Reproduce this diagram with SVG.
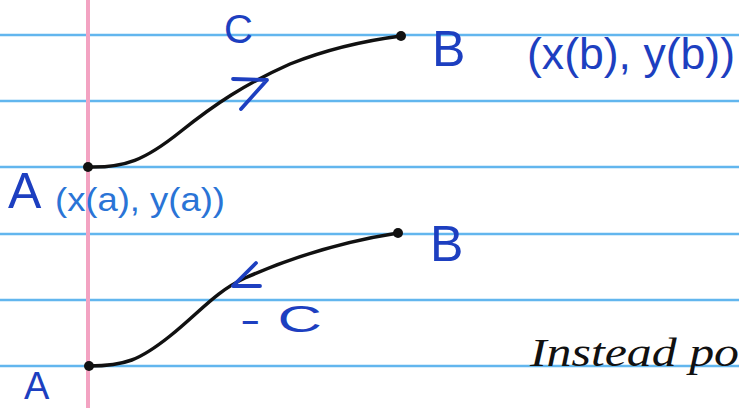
<svg xmlns="http://www.w3.org/2000/svg" width="739" height="408" viewBox="0 0 739 408">
<style>
.rule{stroke:#62b6ee;stroke-width:2.5}
.margin{stroke:#f3a3c2;stroke-width:4}
.curve{fill:none;stroke:#111;stroke-width:3.5;stroke-linecap:round}
.dot{fill:#111}
.ink{fill:#1d3fc0;font-family:"Liberation Sans",sans-serif}
.ink2{fill:#2a74d6;font-family:"Liberation Sans",sans-serif}
.pen{fill:none;stroke:#1d3fc0;stroke-width:3.8;stroke-linecap:round;stroke-linejoin:round}
.hand{fill:#111;font-family:"Liberation Serif",serif;font-style:italic}
</style>
<rect width="739" height="408" fill="#fff"/>
<g id="paper">
<line class="rule" x1="0" y1="35" x2="739" y2="35"/>
<line class="rule" x1="0" y1="101" x2="739" y2="101"/>
<line class="rule" x1="0" y1="167" x2="739" y2="167"/>
<line class="rule" x1="0" y1="234" x2="739" y2="234"/>
<line class="rule" x1="0" y1="300" x2="739" y2="300"/>
<line class="rule" x1="0" y1="366" x2="739" y2="366"/>
<line class="margin" x1="88" y1="0" x2="88" y2="408"/>
</g>
<g id="connectors">
<path class="curve" d="M88,167 C125,168 145,160 180,132 C215,104 245,84 290,64 C330,48 370,40 401,36"/>
<path class="pen" d="M233,79 L267,80 L241,109"/>
<path class="curve" d="M89,366 C125,366 140,360 170,336 C200,312 215,292 245,278 C290,258 340,242 398,233"/>
<path class="pen" d="M256,263 L233,286 L260,286"/>
</g>
<g id="nodeA1">
<circle class="dot" cx="88" cy="167" r="5"/>
<text class="ink" x="8" y="208" font-size="50">A</text>
<text class="ink2" x="55" y="211" font-size="34" textLength="170" lengthAdjust="spacingAndGlyphs">(x(a), y(a))</text>
</g>
<g id="nodeB1">
<circle class="dot" cx="401" cy="36" r="5"/>
<text class="ink" x="432" y="66" font-size="50">B</text>
<text class="ink" x="527" y="69" font-size="44" textLength="208" lengthAdjust="spacingAndGlyphs">(x(b), y(b))</text>
</g>
<text class="ink" x="224" y="43" font-size="40">C</text>
<g id="nodeA2">
<circle class="dot" cx="89" cy="366" r="5"/>
<text class="ink" x="24" y="399" font-size="38">A</text>
</g>
<g id="nodeB2">
<circle class="dot" cx="398" cy="233" r="5"/>
<text class="ink" x="430" y="261" font-size="50">B</text>
</g>
<text class="ink" x="240" y="332" font-size="36" textLength="82" lengthAdjust="spacingAndGlyphs">- C</text>
<text class="hand" x="530" y="366" font-size="40" textLength="209" lengthAdjust="spacingAndGlyphs">Instead  po</text>
</svg>
